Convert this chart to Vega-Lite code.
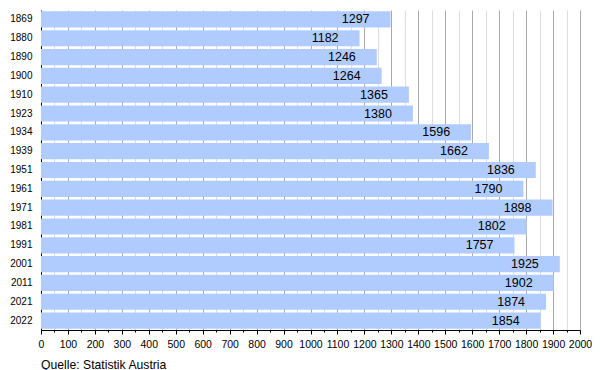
{
  "$schema": "https://vega.github.io/schema/vega-lite/v6.json",
  "width": 539,
  "height": 320,
  "autosize": "none",
  "padding": {"left": 41, "top": 10, "right": 20, "bottom": 40},
  "background": "white",
  "config": {"view": {"stroke": null}, "font": "Liberation Sans"},
  "title": {"text": "Quelle: Statistik Austria", "orient": "bottom", "anchor": "start", "fontSize": 12.2, "fontWeight": "normal", "font": "Liberation Sans", "color": "#000", "offset": 9, "frame": "group"},
  "data": {"values": [
    {"year": "1869", "value": 1297},
    {"year": "1880", "value": 1182},
    {"year": "1890", "value": 1246},
    {"year": "1900", "value": 1264},
    {"year": "1910", "value": 1365},
    {"year": "1923", "value": 1380},
    {"year": "1934", "value": 1596},
    {"year": "1939", "value": 1662},
    {"year": "1951", "value": 1836},
    {"year": "1961", "value": 1790},
    {"year": "1971", "value": 1898},
    {"year": "1981", "value": 1802},
    {"year": "1991", "value": 1757},
    {"year": "2001", "value": 1925},
    {"year": "2011", "value": 1902},
    {"year": "2021", "value": 1874},
    {"year": "2022", "value": 1854}
  ]},
  "encoding": {
    "y": {"field": "year", "type": "ordinal", "sort": null,
      "scale": {"paddingInner": 0.14, "paddingOuter": 0.07},
      "axis": {"title": null, "ticks": false, "domainColor": "#000", "labelFontSize": 10, "labelColor": "#000", "labelPadding": 9}},
    "x": {"field": "value", "type": "quantitative",
      "scale": {"domain": [0, 2000], "nice": false},
      "axis": {"title": null, "values": [0,50,100,150,200,250,300,350,400,450,500,550,600,650,700,750,800,850,900,950,1000,1050,1100,1150,1200,1250,1300,1350,1400,1450,1500,1550,1600,1650,1700,1750,1800,1850,1900,1950,2000],
        "labelExpr": "datum.value % 100 === 0 ? datum.label : ''",
        "labelFontSize": 10.5, "labelColor": "#000", "labelPadding": 5, "labelFlush": false, "labelOverlap": false,
        "format": "d",
        "domainColor": "#000", "tickColor": "#000",
        "tickSize": {"condition": {"test": "datum.value % 100 === 0", "value": 4}, "value": 2},
        "gridColor": {"condition": {"test": "datum.value % 100 === 0", "value": "#aaaaaa"}, "value": "#dddddd"},
        "grid": true}}
  },
  "layer": [
    {"mark": {"type": "bar", "color": "#b0ccff"}},
    {"mark": {"type": "text", "align": "right", "baseline": "middle", "dx": -21, "fontSize": 12.5, "color": "#000"},
      "encoding": {"text": {"field": "value", "type": "quantitative", "format": "d"}}}
  ]
}
